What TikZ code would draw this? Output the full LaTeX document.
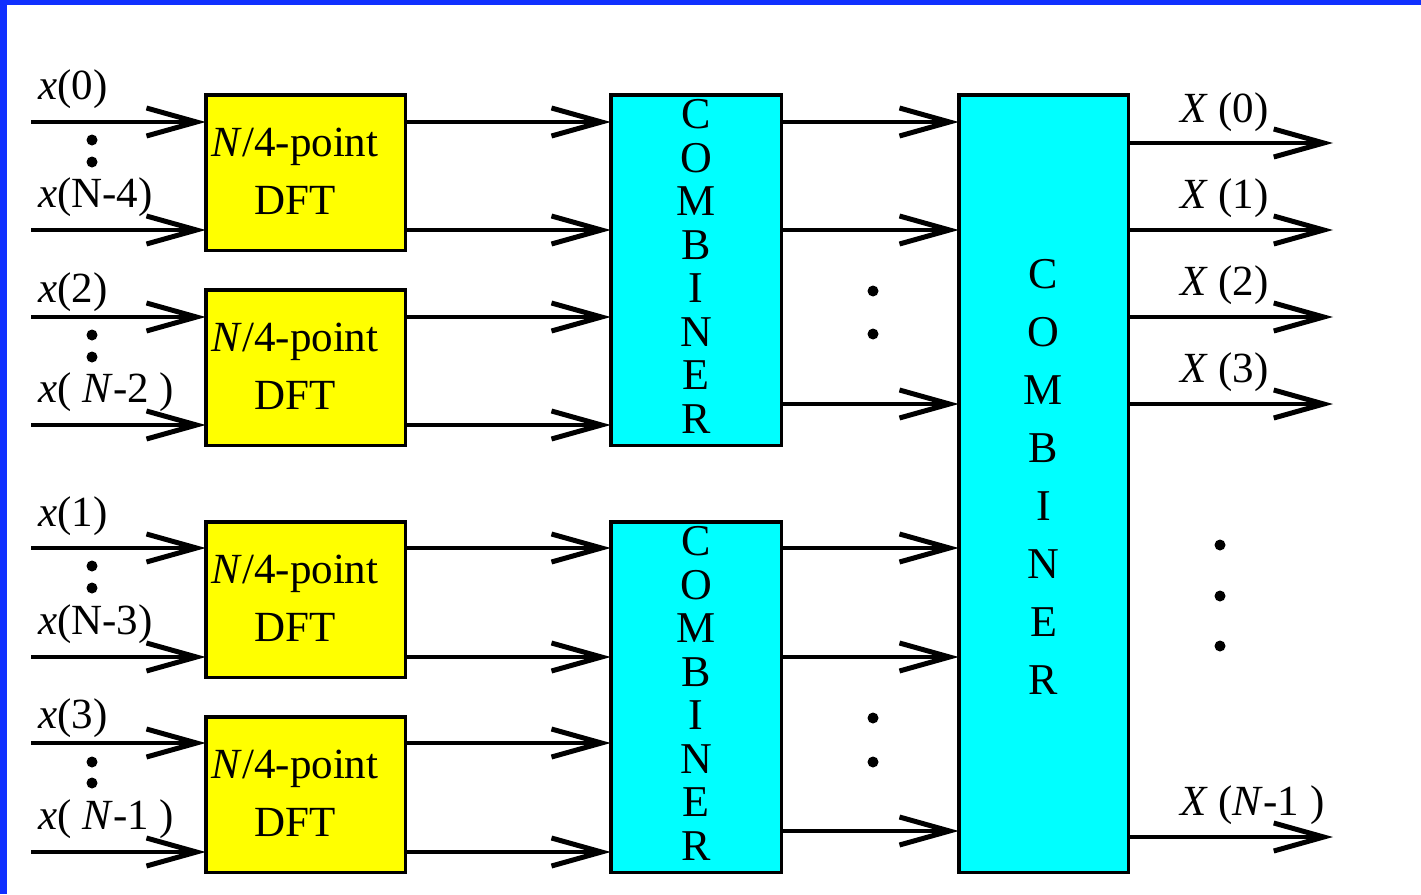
\documentclass[tikz,border=0pt]{standalone}
\usepackage{fontspec}
\setmainfont{Liberation Serif}
\usetikzlibrary{arrows.meta}
\definecolor{bordblue}{RGB}{16,48,255}
\definecolor{boxyellow}{RGB}{255,255,0}
\definecolor{boxcyan}{RGB}{0,255,255}
\begin{document}
\begin{tikzpicture}[x=1pt,y=-1pt,
  lbl/.style={font=\fontsize{43}{48}\selectfont, inner sep=0pt, anchor=base west},
  dfttxt/.style={font=\fontsize{43}{58}\selectfont, inner sep=0pt, align=center},
  dftbox/.style={draw, line width=3.5pt, fill=boxyellow, minimum width=199.5pt, minimum height=155.5pt, inner sep=0pt, outer sep=0pt},
  combbox/.style={draw, line width=3.5pt, fill=boxcyan, inner sep=0pt, outer sep=0pt},
  arr/.style={line width=4pt, -{Straight Barb[length=50pt, width=28pt, line width=5pt]}},
  blob/.style={circle, fill=black, inner sep=0pt, minimum size=11pt}]
\useasboundingbox (0,0) rectangle (1421,894);
\fill[white] (0,0) rectangle (1421,894);
\fill[bordblue] (0,0) rectangle (1421,5);
\fill[bordblue] (0,0) rectangle (7,894);

% DFT boxes
\node[dftbox] (d1) at (305.5,172.5) {};
\node[dftbox] (d2) at (305.5,367.5) {};
\node[dftbox] (d3) at (305.5,599.5) {};
\node[dftbox] (d4) at (305.5,794.5) {};
\node[dfttxt] (d1t) at (295,171.5) {\textit{N}/4-point\\DFT};
\node[dfttxt] (d2t) at (295,366.5) {\textit{N}/4-point\\DFT};
\node[dfttxt] (d3t) at (295,598.5) {\textit{N}/4-point\\DFT};
\node[dfttxt] (d4t) at (295,793.5) {\textit{N}/4-point\\DFT};

% combiners
\node[combbox, minimum width=170.5pt, minimum height=350.5pt] (c1) at (696,270) {};
\node[combbox, minimum width=170.5pt, minimum height=350.5pt] (c2) at (696,697) {};
\node[combbox, minimum width=169.5pt, minimum height=777.5pt] (b) at (1043.5,483.5) {};
\node[font=\fontsize{44}{43.5}\selectfont, inner sep=0pt, align=center] (c1t) at (696,266.5) {C\\O\\M\\B\\I\\N\\E\\R};
\node[font=\fontsize{44}{43.5}\selectfont, inner sep=0pt, align=center] (c2t) at (696,693.5) {C\\O\\M\\B\\I\\N\\E\\R};
\node[font=\fontsize{44}{58}\selectfont, inner sep=0pt, align=center] (bt) at (1043.5,476.5) {C\\O\\M\\B\\I\\N\\E\\R};

% input coordinates
\coordinate (i1) at (31,122);
\coordinate (i2) at (31,230);
\coordinate (i3) at (31,317);
\coordinate (i4) at (31,425);
\coordinate (i5) at (31,548);
\coordinate (i6) at (31,657);
\coordinate (i7) at (31,743);
\coordinate (i8) at (31,852);

\draw[arr] (i1) -- (i1 -| d1.west);
\draw[arr] (i2) -- (i2 -| d1.west);
\draw[arr] (i3) -- (i3 -| d2.west);
\draw[arr] (i4) -- (i4 -| d2.west);
\draw[arr] (i5) -- (i5 -| d3.west);
\draw[arr] (i6) -- (i6 -| d3.west);
\draw[arr] (i7) -- (i7 -| d4.west);
\draw[arr] (i8) -- (i8 -| d4.west);

\draw[arr] (i1 -| d1.east) -- (i1 -| c1.west);
\draw[arr] (i2 -| d1.east) -- (i2 -| c1.west);
\draw[arr] (i3 -| d2.east) -- (i3 -| c1.west);
\draw[arr] (i4 -| d2.east) -- (i4 -| c1.west);
\draw[arr] (i5 -| d3.east) -- (i5 -| c2.west);
\draw[arr] (i6 -| d3.east) -- (i6 -| c2.west);
\draw[arr] (i7 -| d4.east) -- (i7 -| c2.west);
\draw[arr] (i8 -| d4.east) -- (i8 -| c2.west);

% combiner to big combiner
\coordinate (m1) at (0,122);
\coordinate (m2) at (0,230);
\coordinate (m3) at (0,404);
\coordinate (m4) at (0,548);
\coordinate (m5) at (0,657);
\coordinate (m6) at (0,831);
\draw[arr] (c1.east |- m1) -- (b.west |- m1);
\draw[arr] (c1.east |- m2) -- (b.west |- m2);
\draw[arr] (c1.east |- m3) -- (b.west |- m3);
\draw[arr] (c2.east |- m4) -- (b.west |- m4);
\draw[arr] (c2.east |- m5) -- (b.west |- m5);
\draw[arr] (c2.east |- m6) -- (b.west |- m6);

% outputs
\coordinate (o1) at (1333,143);
\coordinate (o2) at (1333,230);
\coordinate (o3) at (1333,317);
\coordinate (o4) at (1333,404);
\coordinate (o5) at (1333,837);
\draw[arr] (b.east |- o1) -- (o1);
\draw[arr] (b.east |- o2) -- (o2);
\draw[arr] (b.east |- o3) -- (o3);
\draw[arr] (b.east |- o4) -- (o4);
\draw[arr] (b.east |- o5) -- (o5);

% input labels
\node[lbl] (l1) at (38,99) {\textit{x}(0)};
\node[lbl] (l2) at (38,207) {\textit{x}(N-4)};
\node[lbl] (l3) at (38,302) {\textit{x}(2)};
\node[lbl] (l4) at (38,402) {\textit{x}( \textit{N}-2 )};
\node[lbl] (l5) at (38,526) {\textit{x}(1)};
\node[lbl] (l6) at (38,634) {\textit{x}(N-3)};
\node[lbl] (l7) at (38,728) {\textit{x}(3)};
\node[lbl] (l8) at (38,829) {\textit{x}( \textit{N}-1 )};

% output labels
\node[lbl] (r1) at (1180,122) {\textit{X} (0)};
\node[lbl] (r2) at (1180,208) {\textit{X} (1)};
\node[lbl] (r3) at (1180,295) {\textit{X} (2)};
\node[lbl] (r4) at (1180,382) {\textit{X} (3)};
\node[lbl] (r5) at (1180,815) {\textit{X} (\textit{N}-1 )};

% dots
\node[blob] (p1) at (92,140) {};
\node[blob] (p2) at (92,162) {};
\node[blob] (p3) at (92,335) {};
\node[blob] (p4) at (92,357) {};
\node[blob] (p5) at (92,566) {};
\node[blob] (p6) at (92,588) {};
\node[blob] (p7) at (92,762) {};
\node[blob] (p8) at (92,783) {};
\node[blob] (q1) at (873,291) {};
\node[blob] (q2) at (873,334) {};
\node[blob] (q3) at (873,718) {};
\node[blob] (q4) at (873,762) {};
\node[blob] (s1) at (1220,545) {};
\node[blob] (s2) at (1220,596) {};
\node[blob] (s3) at (1220,646) {};
\end{tikzpicture}
\end{document}
